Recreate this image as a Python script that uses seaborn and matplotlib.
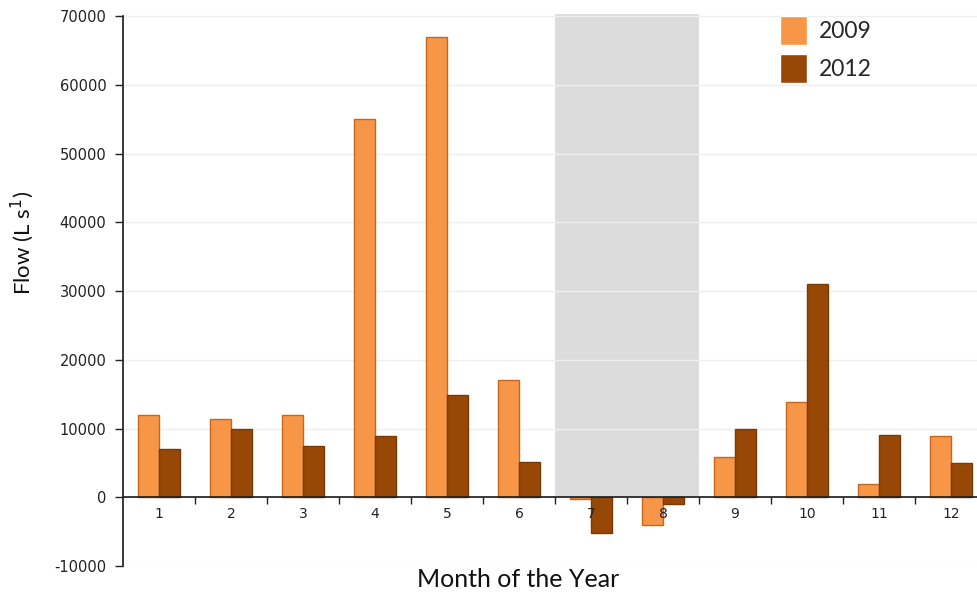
"""Monthly flow comparison, 2009 vs 2012."""

import matplotlib

matplotlib.use("Agg")
import matplotlib.pyplot as plt
import pandas as pd
import seaborn as sns

MONTHS = ["1", "2", "3", "4", "5", "6", "7", "8", "9", "10", "11", "12"]
FLOW_2009 = [12000, 11400, 12000, 55000, 67000, 17000, -250, -4100, 5900, 13900, 1900, 8900]
FLOW_2012 = [7000, 10000, 7500, 8900, 14900, 5100, -5200, -1000, 10000, 31000, 9100, 5000]
YEARS = ["2009", "2012"]
SHADED_MONTHS = ["7", "8"]
Y_TICKS = [-10000, 0, 10000, 20000, 30000, 40000, 50000, 60000, 70000]

COLORS = {"2009": "#f79646", "2012": "#974806"}
EDGES = {"2009": "#c8661f", "2012": "#7a3905"}

Y_LOW, Y_HIGH = -10000, 70300
X_LIMITS = (-0.5, 11.375)


def build_frame() -> pd.DataFrame:
    """Long-form table for seaborn."""
    return pd.concat(
        [
            pd.DataFrame({"month": MONTHS, "flow": FLOW_2009, "year": "2009"}),
            pd.DataFrame({"month": MONTHS, "flow": FLOW_2012, "year": "2012"}),
        ],
        ignore_index=True,
    )


def main() -> None:
    sns.set_theme(style="white")
    plt.rcParams["font.family"] = ["DejaVu Sans"]
    plt.rcParams["axes.unicode_minus"] = False

    data = build_frame()
    fig = plt.figure(figsize=(9.78, 5.92), dpi=100)
    ax = fig.add_axes([123 / 978, 1 - 566 / 592, 1 - 123 / 978, (566 - 14) / 592])

    # shaded gap months
    first = MONTHS.index(SHADED_MONTHS[0]) - 0.5
    last = MONTHS.index(SHADED_MONTHS[-1]) + 0.5
    ax.axvspan(first, last, ymin=(0 - Y_LOW) / (Y_HIGH - Y_LOW), ymax=1,
               color="#dcdcdc", lw=0, zorder=0)

    sns.barplot(
        data=data, x="month", y="flow", hue="year", order=MONTHS, hue_order=YEARS,
        palette=COLORS, saturation=1, width=0.57, errorbar=None, ax=ax, zorder=3,
        linewidth=1,
    )
    for container, year in zip(ax.containers, YEARS):
        for bar in container:
            bar.set_edgecolor(EDGES[year])

    ax.set_axisbelow(True)
    ax.set_yticks(Y_TICKS)
    ax.yaxis.grid(True, color="#efefef", linewidth=1)
    ax.xaxis.grid(False)
    ax.xaxis.set_zorder(5)

    for side in ["top", "right"]:
        ax.spines[side].set_visible(False)
    ax.spines["left"].set_color("#222222")
    ax.spines["left"].set_bounds(-10000, 70000)
    ax.spines["bottom"].set_position(("data", 0))
    ax.spines["bottom"].set_color("#222222")
    ax.spines["bottom"].set_zorder(5)

    ax.tick_params(axis="y", which="major", direction="out", length=6, width=1,
                   color="#222222", labelsize=10.5, labelcolor="#222222", pad=6, left=True)
    ax.set_xticks(list(range(len(MONTHS))))
    ax.set_xticks([i + 0.5 for i in range(len(MONTHS))], minor=True)
    ax.tick_params(axis="x", which="major", length=0, labelsize=10,
                   labelcolor="#222222", pad=7)
    ax.tick_params(axis="x", which="minor", direction="out", length=5, width=1,
                   color="#222222", bottom=True)

    # set limits after ticks, set_xticks widens the view otherwise
    ax.set_ylim(Y_LOW, Y_HIGH)
    ax.set_xlim(*X_LIMITS)

    ax.set_xlabel("Month of the Year", family=["Lato", "DejaVu Sans"], fontsize=18,
                  color="#111111", va="top")
    ax.xaxis.set_label_coords((518 - 123) / 855, -0.004)
    ax.set_ylabel("Flow (L s$^{1}$)", family=["Lato", "DejaVu Sans"], fontsize=16,
                  color="#111111", va="center")
    ax.yaxis.set_label_coords(-0.118, (566 - 243) / 552)

    ax.legend(
        loc="upper left", bbox_to_anchor=(780 / 978, 1 - 16 / 592),
        bbox_transform=fig.transFigure, frameon=False,
        prop={"family": ["Lato", "DejaVu Sans"], "size": 16.5},
        handlelength=1.2, handleheight=1.55, handletextpad=0.5,
        labelspacing=0.4, borderpad=0, borderaxespad=0, title=None,
    )

    fig.savefig("out.png", dpi=100)
    plt.close(fig)


if __name__ == "__main__":
    main()
